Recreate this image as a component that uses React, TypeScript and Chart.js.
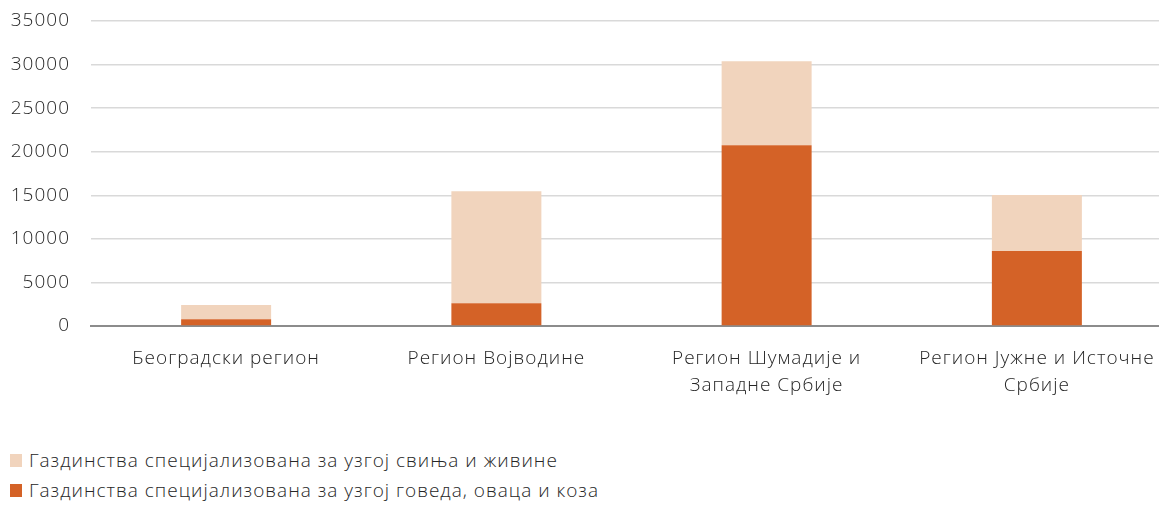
import React, { useEffect, useRef } from "react";
import { Chart, registerables } from "chart.js";

Chart.register(...registerables);

const categories: (string | string[])[] = [
  "Београдски регион",
  "Регион Војводине",
  ["Регион Шумадије и", "Западне Србије"],
  ["Регион Јужне и Источне", "Србије"],
];
const cattleSheepGoats = [770, 2600, 20740, 8600];
const pigsPoultry = [1630, 12850, 9640, 6430];
const seriesLabels = [
  "Газдинства специјализована за узгој свиња и живине",
  "Газдинства специјализована за узгој говеда, оваца и коза",
];
const seriesColors = ["#F1D4BD", "#D46227"];
const yTicks = [0, 5000, 10000, 15000, 20000, 25000, 30000, 35000];

const FONT = "'Open Sans', sans-serif";
const TEXT = "#262626";
const SPACING = "1px";

const spacingPlugin = {
  id: "spacing",
  beforeDraw(chart: any) {
    chart.ctx.letterSpacing = SPACING;
  },
};

export default function App() {
  const ref = useRef<HTMLCanvasElement | null>(null);
  useEffect(() => {
    document.body.style.margin = "0";
    const ctx = ref.current!;
    const chart = new Chart(ctx, {
      type: "bar",
      plugins: [spacingPlugin],
      data: {
        labels: categories,
        datasets: [
          {
            label: seriesLabels[1],
            data: cattleSheepGoats,
            backgroundColor: seriesColors[1],
            stack: "s",
            order: 1,
          },
          {
            label: seriesLabels[0],
            data: pigsPoultry,
            backgroundColor: seriesColors[0],
            stack: "s",
            order: 2,
          },
        ],
      },
      options: {
        responsive: false,
        animation: false,
        layout: { padding: { top: 21, left: 0, right: 0, bottom: 0 } },
        plugins: { legend: { display: false }, tooltip: { enabled: false } },
        datasets: { bar: { categoryPercentage: 1, barPercentage: 0.333 } },
        scales: {
          x: {
            stacked: true,
            grid: { display: false, drawTicks: false },
            border: { display: true, color: "#8c8c8c", width: 2 },
            ticks: {
              color: TEXT,
              font: { family: FONT, size: 19, weight: "300", lineHeight: 1.42 },
              padding: 19,
              maxRotation: 0,
              autoSkip: false,
            },
            afterFit: (s: any) => {
              s.height = 74;
            },
          },
          y: {
            stacked: true,
            min: 0,
            max: 35000,
            afterBuildTicks: (s: any) => {
              s.ticks = yTicks.map((v) => ({ value: v }));
            },
            grid: { color: "#d9d9d9", lineWidth: 1.5, drawTicks: false },
            border: { display: false },
            ticks: {
              color: TEXT,
              font: { family: FONT, size: 19, weight: "300" },
              padding: 21,
              callback: (v: any) => String(v),
            },
            afterFit: (s: any) => {
              s.width = 91;
              s.paddingTop = 0;
              s.paddingBottom = 0;
            },
          },
        },
      },
    });
    return () => chart.destroy();
  }, []);

  const legendOrder = [0, 1];
  return (
    <div
      style={{
        position: "relative",
        width: 1159,
        height: 507,
        overflow: "hidden",
        background: "#fff",
      }}
    >
      <canvas
        ref={ref}
        width={1172}
        height={400}
        style={{ position: "absolute", left: 0, top: 0 }}
      />
      {legendOrder.map((i, k) => (
        <div
          key={i}
          style={{
            position: "absolute",
            left: 10,
            top: 447 + k * 30,
            height: 26,
            display: "flex",
            alignItems: "center",
            fontFamily: FONT,
            fontSize: 19,
            fontWeight: 300,
            letterSpacing: SPACING,
            color: TEXT,
            whiteSpace: "nowrap",
          }}
        >
          <span
            style={{
              display: "inline-block",
              width: 12,
              height: 13,
              background: seriesColors[i],
              marginRight: 7,
            }}
          />
          {seriesLabels[i]}
        </div>
      ))}
    </div>
  );
}
